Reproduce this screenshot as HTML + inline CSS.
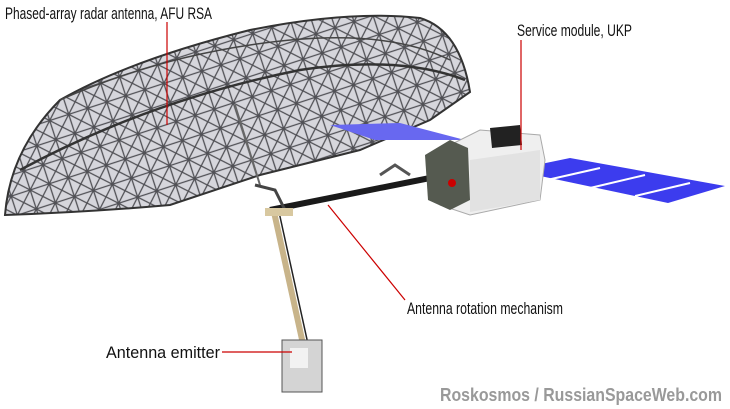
<!DOCTYPE html>
<html><head><style>
body{margin:0;background:#fff;width:730px;height:409px;overflow:hidden}
svg{display:block}
text{font-family:"Liberation Sans Narrow","Liberation Sans",sans-serif}
</style></head><body>
<svg width="730" height="409" viewBox="0 0 730 409">
<defs>
<pattern id="lat" width="20" height="20" patternUnits="userSpaceOnUse" patternTransform="rotate(-18)">
<path d="M0 0L20 20M20 0L0 20M0 10H20M10 0V20" stroke="#505055" stroke-width="1.3"/>
</pattern>
</defs>
<path d="M5 215 Q10 150 60 100 Q130 60 250 30 Q350 10 420 18 Q460 30 470 92 L430 120 L360 150 L260 175 L170 205 Q90 212 5 215Z" fill="#d6d6dc"/>
<path d="M5 215 Q10 150 60 100 Q130 60 250 30 Q350 10 420 18 Q460 30 470 92 L430 120 L360 150 L260 175 L170 205 Q90 212 5 215Z" fill="url(#lat)" stroke="#333" stroke-width="2"/>
<path d="M20 170 Q150 100 300 70 Q400 55 465 80" fill="none" stroke="#333" stroke-width="2.5"/>
<path d="M60 100 Q150 60 250 45 Q380 25 450 60" fill="none" stroke="#444" stroke-width="1.5"/>
<path d="M330 125 L400 123 L465 140 L375 140Z" fill="#6868f0"/>
<path d="M235 105 L260 185" stroke="#666" stroke-width="2"/>
<path d="M270 210 L430 178" stroke="#1a1a1a" stroke-width="6"/>
<path d="M255 185 L275 190 L285 210" stroke="#444" stroke-width="3" fill="none"/>
<path d="M380 175 L395 165 L410 175" stroke="#555" stroke-width="3" fill="none"/>
<path d="M274 212 L312 385" stroke="#c8b48a" stroke-width="6"/>
<path d="M279 212 L317 385" stroke="#222" stroke-width="1.5"/>
<rect x="265" y="208" width="28" height="8" fill="#d8c8a0"/>
<rect x="282" y="340" width="40" height="52" fill="#d4d4d4" stroke="#555"/>
<rect x="290" y="348" width="18" height="20" fill="#f2f2f2"/>
<path d="M512 170 L570 158 L725 186 L668 203Z" fill="#3c3cee"/>
<path d="M547 180 L600 168 M590 188 L645 175 M635 196 L690 183" stroke="#fff" stroke-width="2"/>
<path d="M440 150 L480 130 L540 135 L545 160 L540 200 L470 215 L440 205Z" fill="#efefef" stroke="#aaa"/>
<path d="M470 160 L540 150 L540 200 L470 212Z" fill="#e2e2e2"/>
<path d="M490 128 L520 125 L522 145 L492 148Z" fill="#222"/>
<path d="M425 155 L450 140 L468 148 L470 200 L450 210 L428 200Z" fill="#555a50"/>
<circle cx="452" cy="183" r="4" fill="#c00"/>
<g stroke="#c00" stroke-width="1.2" fill="none">
<path d="M167 22 V125"/><path d="M521 40 V150"/><path d="M328 205 L405 300"/><path d="M222 352 H292"/>
</g>
<g font-size="17" fill="#111">
<text x="5" y="19" textLength="207" lengthAdjust="spacingAndGlyphs">Phased-array radar antenna, AFU RSA</text>
<text x="517" y="36" textLength="115" lengthAdjust="spacingAndGlyphs">Service module, UKP</text>
<text x="407" y="314" textLength="156" lengthAdjust="spacingAndGlyphs">Antenna rotation mechanism</text>
<text x="106" y="358" textLength="114" lengthAdjust="spacingAndGlyphs">Antenna emitter</text>
</g>
<text x="440" y="401" font-size="18" font-weight="bold" fill="#999" textLength="282" lengthAdjust="spacingAndGlyphs">Roskosmos / RussianSpaceWeb.com</text>
</svg>
</body></html>
